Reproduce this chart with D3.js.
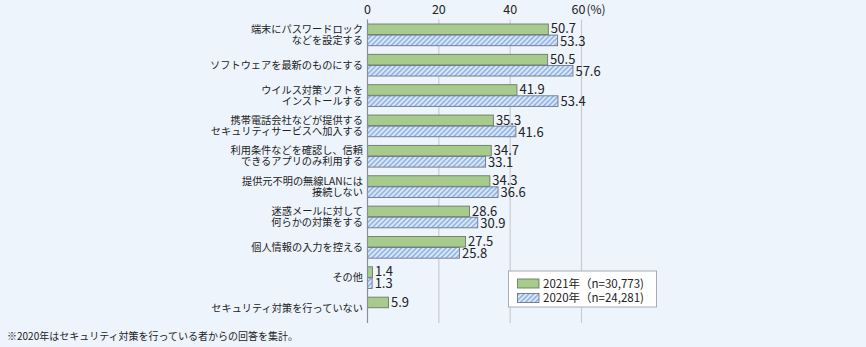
<!DOCTYPE html>
<html><head><meta charset="utf-8">
<script src="https://cdn.jsdelivr.net/npm/d3@7"></script>
<style>
html,body{margin:0;padding:0;background:#eef4fc;}
svg{display:block;font-family:"Noto Sans CJK JP","Noto Sans",sans-serif;}
</style></head>
<body><svg id="c" width="866" height="347"></svg>
<script>
const categories = [
  "端末にパスワードロック\nなどを設定する",
  "ソフトウェアを最新のものにする",
  "ウイルス対策ソフトを\nインストールする",
  "携帯電話会社などが提供する\nセキュリティサービスへ加入する",
  "利用条件などを確認し、信頼\nできるアプリのみ利用する",
  "提供元不明の無線LANには\n接続しない",
  "迷惑メールに対して\n何らかの対策をする",
  "個人情報の入力を控える",
  "その他",
  "セキュリティ対策を行っていない"
];
const values2021 = [50.7, 50.5, 41.9, 35.3, 34.7, 34.3, 28.6, 27.5, 1.4, 5.9];
const values2020 = [53.3, 57.6, 53.4, 41.6, 33.1, 36.6, 30.9, 25.8, 1.3, null];
const seriesNames = ["2021年（n=30,773)", "2020年（n=24,281)"];
const ticks = [0, 20, 40, 60];
const footnote = "※2020年はセキュリティ対策を行っている者からの回答を集計。";

const svg = d3.select("#c");
const x = d3.scaleLinear().domain([0, 60]).range([367.5, 581.5]);
const y = d3.scaleBand().domain(categories).range([19.5, 323]);
const barH = 10.6, off1 = 4.5, off2 = 15.6;

// hatch pattern
const defs = svg.append("defs");
const pat = defs.append("pattern").attr("id","hatch").attr("patternUnits","userSpaceOnUse")
  .attr("width",3.5).attr("height",3.5).attr("patternTransform","rotate(45)");
pat.append("rect").attr("width",3.5).attr("height",3.5).attr("fill","#dce8f8");
pat.append("rect").attr("width",1.6).attr("height",3.5).attr("fill","#8fb3e6");

// grid
svg.append("g").selectAll("line").data(ticks.slice(1)).join("line")
  .attr("x1",d=>x(d)).attr("x2",d=>x(d)).attr("y1",19.5).attr("y2",323)
  .attr("stroke","#c8ccd2").attr("stroke-width",1.2);

// tick labels
const tl = svg.append("g").attr("font-size",12.5).attr("fill","#222");
tl.selectAll("text").data(ticks).join("text")
  .attr("x",d=>x(d) - (d===60?3:0)).attr("y",10).attr("dy","0.35em")
  .attr("text-anchor","middle").text(d=>d);
tl.append("text").attr("x",x(60)+5).attr("y",10).attr("dy","0.35em").attr("font-size",12).text("(%)");

// bars
const g = svg.append("g");
g.selectAll("rect.b1").data(categories).join("rect").attr("class","b1")
  .attr("x",x(0)).attr("y",d=>y(d)+off1)
  .attr("width",(d,i)=>x(values2021[i])-x(0)).attr("height",barH)
  .attr("fill","#a6cb8c").attr("stroke","#6d7a66").attr("stroke-width",0.9);
const idx2 = categories.map((c,i)=>i).filter(i=>values2020[i]!=null);
g.selectAll("rect.b2").data(idx2).join("rect").attr("class","b2")
  .attr("x",x(0)).attr("y",i=>y(categories[i])+off2)
  .attr("width",i=>x(values2020[i])-x(0)).attr("height",barH)
  .attr("fill","url(#hatch)").attr("stroke","#6d7688").attr("stroke-width",0.9);

// value labels
const vl = svg.append("g").attr("font-size",13).attr("fill","#222");
vl.selectAll("text.v1").data(categories).join("text").attr("class","v1")
  .attr("x",(d,i)=>x(values2021[i])+2.5).attr("y",d=>y(d)+off1+barH/2-0.5).attr("dy","0.36em")
  .text((d,i)=>values2021[i].toFixed(1));
vl.selectAll("text.v2").data(idx2).join("text").attr("class","v2")
  .attr("x",i=>x(values2020[i])+2.5).attr("y",i=>y(categories[i])+off2+barH/2+0.5).attr("dy","0.36em")
  .text(i=>values2020[i].toFixed(1));

// axis line
svg.append("line").attr("x1",x(0)).attr("x2",x(0)).attr("y1",19.5).attr("y2",323)
  .attr("stroke","#8a8f96").attr("stroke-width",1.2);

// category labels
const cl = svg.append("g").attr("font-size",10.2).attr("fill","#222").attr("text-anchor","end");
categories.forEach((c)=>{
  const lines = c.split("\n");
  const t = cl.append("text").attr("x",363);
  if (lines.length === 2) {
    t.append("tspan").attr("x",363).attr("y",y(c)+off1+barH/2).attr("dy","0.36em").text(lines[0]);
    t.append("tspan").attr("x",363).attr("y",y(c)+off2+barH/2).attr("dy","0.36em").text(lines[1]);
  } else {
    t.attr("y",y(c)+(off1+off2+barH)/2).attr("dy","0.36em").text(lines[0]);
  }
});

// legend
const lg = svg.append("g");
lg.append("rect").attr("x",508.5).attr("y",271).attr("width",148).attr("height",36)
  .attr("fill","#fff").attr("stroke","#a8acb2").attr("stroke-width",1);
const sw = [{fill:"#a6cb8c",stroke:"#6d7a66"},{fill:"url(#hatch)",stroke:"#6d7688"}];
seriesNames.forEach((s,i)=>{
  lg.append("rect").attr("x",517.5).attr("y",279+i*14.5).attr("width",21.5).attr("height",9)
    .attr("fill",sw[i].fill).attr("stroke",sw[i].stroke).attr("stroke-width",0.9);
  lg.append("text").attr("x",543).attr("y",283.5+i*14.5).attr("dy","0.36em")
    .attr("font-size",11.5).attr("fill","#222").text(s);
});

// footnote
svg.append("text").attr("x",7).attr("y",336.5).attr("dy","0.36em").attr("font-size",10)
  .attr("fill","#222").text(footnote);
</script></body></html>
